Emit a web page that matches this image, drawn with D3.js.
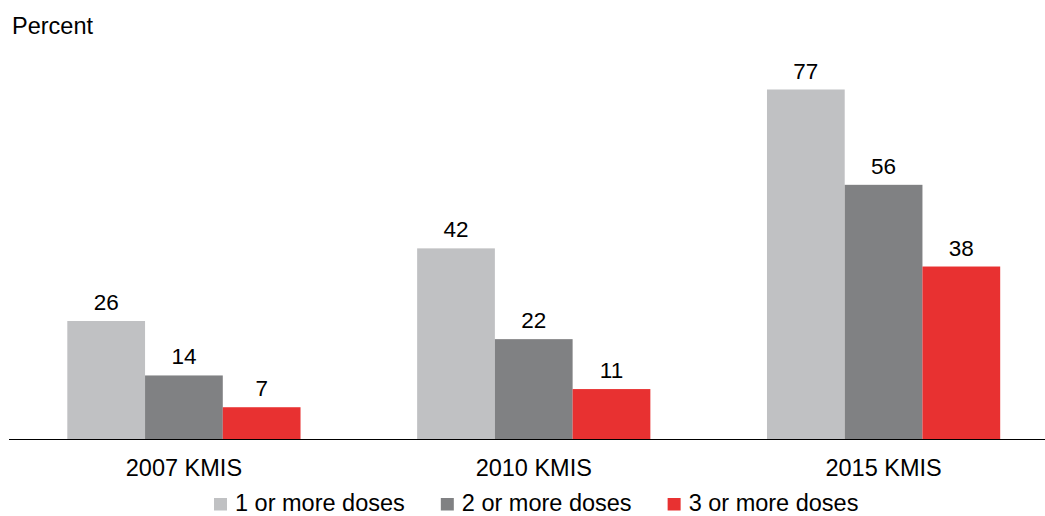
<!DOCTYPE html>
<html>
  <head>
    <meta charset="utf-8">
    <script src="https://d3js.org/d3.v7.min.js"></script>
    <style>
      body { margin: 0; background: #fff; }
      text { font-family: "Liberation Sans", Arial, sans-serif; fill: #000; }
    </style>
  </head>
  <body>
    <div id="chart"></div>

    <script>

        // survey rounds and dose series
        let surveys = ['2007 KMIS', '2010 KMIS', '2015 KMIS'],
            series  = ['1 or more doses', '2 or more doses', '3 or more doses'],
            colors  = ['#c0c1c3', '#808183', '#e83131'],
            oneDose   = [26, 42, 77],
            twoDoses  = [14, 22, 56],
            threeDoses = [7, 11, 38]

        let values = [oneDose, twoDoses, threeDoses]

        let width = 1045,
            height = 516,
            baseline = 439

        let svg = d3.select('#chart').append('svg')
            .attr('width', width)
            .attr('height', height)

        let x = d3.scaleBand()
            .domain(surveys)
            .range([9, 1058.5])
            .paddingInner(1 / 3)
            .paddingOuter(1 / 6)

        let xs = d3.scaleBand()
            .domain(series)
            .range([0, x.bandwidth()])

        let y = d3.scaleLinear()
            .domain([0, 77])
            .range([baseline, 89.5])

        // flatten to one record per bar
        let bars = []
        surveys.forEach((s, i) => {
            series.forEach((k, j) => {
                bars.push({ survey: s, series: k, value: values[j][i], color: colors[j] })
            })
        })

        let g = svg.append('g')

        g.selectAll('.bar')
            .data(bars)
            .enter().append('rect')
            .attr('class', 'bar')
            .attr('x', d => x(d.survey) + xs(d.series))
            .attr('y', d => y(d.value))
            .attr('width', xs.bandwidth())
            .attr('height', d => y(0) - y(d.value))
            .style('fill', d => d.color)

        g.selectAll('.label')
            .data(bars)
            .enter().append('text')
            .attr('class', 'label')
            .attr('x', d => x(d.survey) + xs(d.series) + xs.bandwidth() / 2)
            .attr('y', d => y(d.value) - 11)
            .attr('text-anchor', 'middle')
            .style('font-size', '22.5px')
            .text(d => d.value)

        // x axis: plain baseline with category names
        let xAxis = d3.axisBottom(x).tickSize(0).tickPadding(20)
        let axisG = svg.append('g')
            .attr('transform', `translate(0,${baseline})`)
            .call(xAxis)
        axisG.select('.domain').remove()
        axisG.selectAll('text')
            .style('font-size', '23.5px')
            .style('font-family', '"Liberation Sans", Arial, sans-serif')
            .attr('fill', '#000')

        svg.append('line')
            .attr('x1', 9).attr('x2', width)
            .attr('y1', baseline + 0.5).attr('y2', baseline + 0.5)
            .style('stroke', '#000')
            .style('stroke-width', 1.2)

        svg.append('text')
            .attr('x', 12)
            .attr('y', 34)
            .style('font-size', '23.5px')
            .text('Percent')

        // legend
        let legend = svg.append('g').attr('transform', 'translate(214,0)'),
            lx = 0
        series.forEach((k, j) => {
            legend.append('rect')
                .attr('x', lx).attr('y', 498)
                .attr('width', 13).attr('height', 12.5)
                .style('fill', colors[j])
            let t = legend.append('text')
                .attr('x', lx + 21)
                .attr('y', 511)
                .style('font-size', '23.5px')
                .text(k)
            lx += 21 + t.node().getComputedTextLength() + 36
        })

    </script>
  </body>
</html>
